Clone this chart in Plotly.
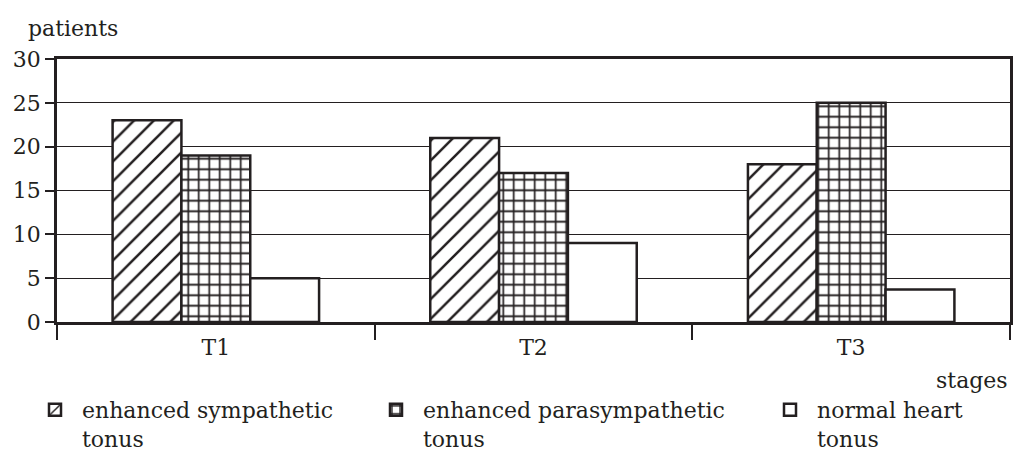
import plotly.graph_objects as go

stages = ["T1", "T2", "T3"]
sympathetic = [23, 21, 18]
parasympathetic = [19, 17, 25]
normal = [5, 9, 3.7]
series_names = [
    "enhanced sympathetic<br>tonus",
    "enhanced parasympathetic<br>tonus",
    "normal heart<br>tonus",
]
y_ticks = [0, 5, 10, 15, 20, 25, 30]

FONT = "DejaVu Serif"
INK = "#231f20"
FS = 22

fig = go.Figure()
patterns = [
    dict(shape="/", size=14, solidity=0.18, fgcolor=INK, bgcolor="white", fgopacity=1),
    dict(shape="+", size=10.5, solidity=0.3, fgcolor=INK, bgcolor="white", fgopacity=1),
    dict(shape="", fgcolor=INK, bgcolor="white"),
]
for i, (vals, name) in enumerate(zip([sympathetic, parasympathetic, normal], series_names)):
    fig.add_trace(go.Bar(
        x=stages, y=vals, name=name,
        marker=dict(color="white", line=dict(color=INK, width=2.5), pattern=patterns[i]),
        legend="legend" if i == 0 else f"legend{i+1}",
    ))

legend_common = dict(
    orientation="h", xref="container", yref="container",
    xanchor="left", yanchor="top", valign="top",
    font=dict(family=FONT, size=FS, color=INK),
    bgcolor="rgba(0,0,0,0)", itemwidth=44, tracegroupgap=0,
)
fig.update_layout(
    legend=dict(x=28 / 1016, y=1 - 389 / 455, **legend_common),
    legend2=dict(x=369 / 1016, y=1 - 389 / 455, **legend_common),
    legend3=dict(x=763 / 1016, y=1 - 389 / 455, **legend_common),
)

fig.update_layout(
    width=1016, height=455,
    margin=dict(l=57, r=3, t=59, b=133),
    paper_bgcolor="white", plot_bgcolor="white",
    font=dict(family=FONT, size=FS, color=INK),
    barmode="group", bargap=0.35, bargroupgap=0,
    showlegend=True,
    xaxis=dict(
        type="category", tickson="boundaries", ticks="outside", ticklen=15,
        tickwidth=1.5, tickcolor=INK, showline=True, linecolor=INK, linewidth=2.5,
        mirror=True, showgrid=False, ticklabelstandoff=4,
        tickfont=dict(family=FONT, size=FS, color=INK),
    ),
    yaxis=dict(
        range=[0, 30], tickvals=y_ticks, ticks="outside", ticklen=9, tickwidth=1.5,
        tickcolor=INK, showline=True, linecolor=INK, linewidth=2.5, mirror=True,
        showgrid=True, gridcolor=INK, gridwidth=1, zeroline=False,
        tickfont=dict(family=FONT, size=FS, color=INK),
    ),
    annotations=[
        dict(text="patients", xref="paper", yref="paper", x=-31 / 956, y=1.0,
             xanchor="left", yanchor="bottom", yshift=16, showarrow=False,
             font=dict(family=FONT, size=FS, color=INK)),
        dict(text="stages", xref="paper", yref="paper", x=1.0, y=0,
             xanchor="right", yanchor="middle", yshift=-58, showarrow=False,
             font=dict(family=FONT, size=FS, color=INK)),
    ],
)

fig.write_html("out.html", config={"displayModeBar": False},
               post_script="document.body.style.margin='0';")
